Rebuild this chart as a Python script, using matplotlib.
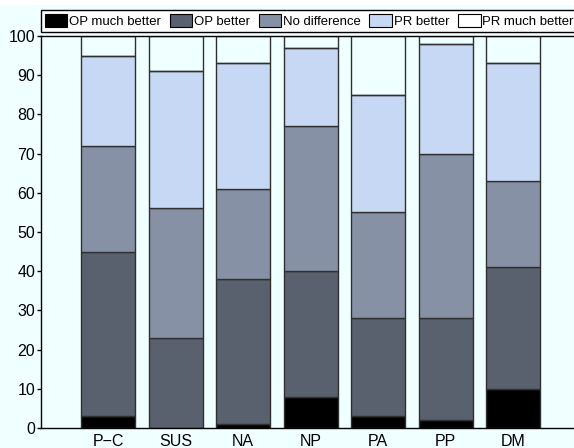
import matplotlib
matplotlib.use("Agg")
import matplotlib.pyplot as plt
from matplotlib.patches import Rectangle
import numpy as np

plt.rcParams['font.family'] = ['Liberation Sans', 'DejaVu Sans']

categories = ["P\u2212C", "SUS", "NA", "NP", "PA", "PP", "DM"]
series_names = ["OP much better", "OP better", "No difference", "PR better", "PR much better"]
op_much_better = [3, 0, 1, 8, 3, 2, 10]
op_better = [42, 23, 37, 32, 25, 26, 31]
no_difference = [27, 33, 23, 37, 27, 42, 22]
pr_better = [23, 35, 32, 20, 30, 28, 30]
pr_much_better = [5, 9, 7, 3, 15, 2, 7]

series = [op_much_better, op_better, no_difference, pr_better, pr_much_better]
colors = ["#000000", "#59606e", "#8791a5", "#c6d8f3", "none"]
bg = "#f0ffff"

fig = plt.figure(figsize=(5.74, 4.48), dpi=100, facecolor=bg)
fig.patches.append(Rectangle((0, 1 - 5 / 448), 1, 5 / 448, transform=fig.transFigure,
                             facecolor="white", edgecolor="none", zorder=-1))
ax = fig.add_axes([40.7 / 574, 1 - 428 / 448, 540 / 574, 392 / 448])
ax.set_facecolor(bg)

x = np.arange(len(categories))
bottom = np.zeros(len(categories))
handles = []
for name, vals, c in zip(series_names, series, colors):
    vals = np.array(vals, dtype=float)
    b = ax.bar(x, vals, width=0.8, bottom=bottom, color=c, edgecolor="#303030",
               linewidth=1.0, label=name)
    handles.append(b)
    bottom += vals

ax.set_xlim(-1, 7)
ax.set_ylim(0, 100)
ax.set_yticks(np.arange(0, 101, 10))
ax.set_xticks(x)
ax.set_xticklabels(categories)
ax.tick_params(axis="x", length=0, pad=4, labelsize=11.5)
ax.tick_params(axis="y", direction="out", length=3, width=1, pad=1, labelsize=11.5)
for s in ax.spines.values():
    s.set_color("black")
    s.set_linewidth(1.0)

leg = ax.legend(handles=handles, labels=series_names, ncol=5, loc="lower left",
                bbox_to_anchor=(0, 1 + 4 / 392), bbox_transform=ax.transAxes,
                fontsize=9.45, handlelength=1.74, handleheight=1.07, handletextpad=0.12,
                columnspacing=0.66, borderpad=0.3, borderaxespad=0.0,
                fancybox=False, frameon=True, edgecolor="black", facecolor="white",
                framealpha=1)
leg.get_frame().set_linewidth(1.0)
for p in leg.get_patches():
    p.set_edgecolor("black")
    p.set_linewidth(0.8)

fig.savefig("out.png", dpi=100, facecolor=fig.get_facecolor())
